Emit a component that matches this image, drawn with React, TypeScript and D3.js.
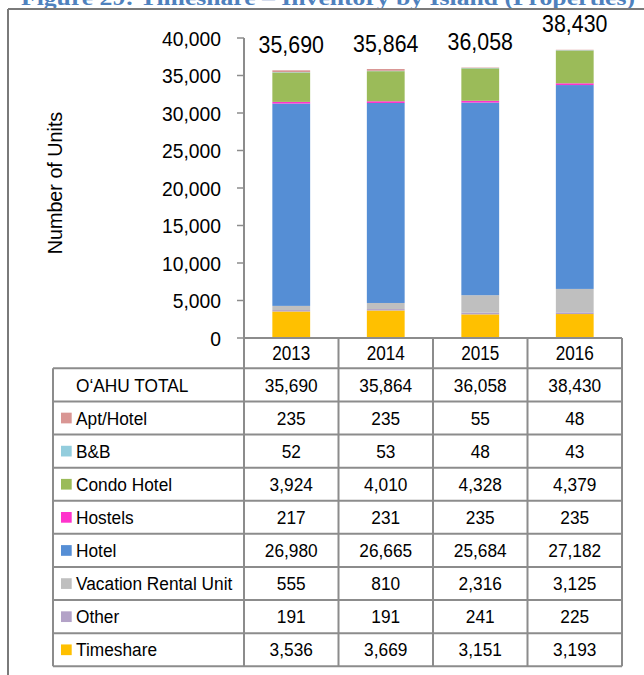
import React from 'react';
import * as d3 from 'd3';

const years = ['2013', '2014', '2015', '2016'];
const totals = [35690, 35864, 36058, 38430];
const seriesNames = ['Apt/Hotel', 'B&B', 'Condo Hotel', 'Hostels', 'Hotel', 'Vacation Rental Unit', 'Other', 'Timeshare'];
const aptHotel = [235, 235, 55, 48];
const bnb = [52, 53, 48, 43];
const condoHotel = [3924, 4010, 4328, 4379];
const hostels = [217, 231, 235, 235];
const hotel = [26980, 26665, 25684, 27182];
const vacationRental = [555, 810, 2316, 3125];
const other = [191, 191, 241, 225];
const timeshare = [3536, 3669, 3151, 3193];
const seriesColors = ['#D99694', '#93CDDD', '#9BBB59', '#FF33CC', '#558ED5', '#BFBFBF', '#B3A2C7', '#FFC000'];
const yTicks = [0, 5000, 10000, 15000, 20000, 25000, 30000, 35000, 40000];

const seriesValues = [aptHotel, bnb, condoHotel, hostels, hotel, vacationRental, other, timeshare];

const W = 644;
const H = 675;
const FONT = "'Liberation Sans', Arial, sans-serif";
const GRID = '#8c8c8c';
const SX = 0.91;

function T(props: { x: number; y: number; size: number; anchor?: string; rotate?: boolean; sx?: number; children: any }) {
  const { x, y, size, anchor = 'start', rotate = false, sx = SX, children } = props;
  const tr = `translate(${x},${y})${rotate ? ' rotate(-90)' : ''} scale(${sx},1)`;
  return (
    <text transform={tr} textAnchor={anchor} fontFamily={FONT} fontSize={size} fill="#000">
      {children}
    </text>
  );
}

export default function App() {
  const x = d3.scaleBand<string>().domain(years).range([244, 622]).paddingInner(0.6).paddingOuter(0.3);
  const y = d3.scaleLinear().domain([0, 40000]).range([338, 38]);
  const fmt = d3.format(',');

  const rows = years.map((yr, i) => {
    const o: any = { year: yr };
    seriesNames.forEach((s, k) => (o[s] = seriesValues[k][i]));
    return o;
  });
  const keysBottomUp = [...seriesNames].reverse();
  const stacked = d3.stack<any>().keys(keysBottomUp)(rows);
  const colorOf = (name: string) => seriesColors[seriesNames.indexOf(name)];

  const step = x.step();
  const colStart = 244;
  const colEdges = years.map((_, i) => colStart + i * step).concat([colStart + years.length * step]);
  const colCenter = (i: number) => colStart + (i + 0.5) * step;

  const headTop = 338;
  const headBottom = 368.3;
  const tableBottom = 666.3;
  const nRows = 1 + seriesNames.length;
  const rowH = (tableBottom - headBottom) / nRows;
  const labelLeft = 53;

  const tableRows = [
    { label: 'Oʻ' + 'AHU TOTAL', color: null as string | null, values: totals },
    ...seriesNames.map((s, k) => ({ label: s, color: seriesColors[k], values: seriesValues[k] })),
  ];

  return (
    <svg width={W} height={H} style={{ position: 'absolute', left: 0, top: 0, display: 'block', background: '#fff' }}>
      <rect x={0} y={0} width={W} height={H} fill="#fff" />
      {/* title (cut at top) */}
      <text x={21} y={5} fontFamily="'Liberation Serif', 'DejaVu Serif', serif" fontWeight="bold" fontSize={22}
        fill="#4F81BD" textLength={614} lengthAdjust="spacingAndGlyphs">
        Figure 29: Timeshare – Inventory by Island (Properties)
      </text>
      {/* frame */}
      <line x1={8} y1={9} x2={W} y2={9} stroke="#7a7a7a" strokeWidth={2} />
      <line x1={8} y1={9} x2={8} y2={H} stroke="#7a7a7a" strokeWidth={2} />

      {/* y axis title */}
      <T x={62} y={(38 + 338) / 2 - 5} size={21} anchor="middle" rotate sx={0.94}>Number of Units</T>

      {/* y axis */}
      <line x1={244} y1={y(40000)} x2={244} y2={headBottom} stroke={GRID} strokeWidth={1.5} />
      {yTicks.map((t) => (
        <g key={t}>
          <line x1={237} x2={244} y1={y(t)} y2={y(t)} stroke={GRID} strokeWidth={1.5} />
          <T x={221} y={y(t) + 7.5} size={21} anchor="end" sx={0.92}>{fmt(t)}</T>
        </g>
      ))}

      {/* bars */}
      {stacked.map((layer) => (
        <g key={layer.key} fill={colorOf(layer.key)}>
          {layer.map((d, i) => (
            <rect key={i} x={x(years[i])} width={x.bandwidth()} y={y(d[1])} height={Math.max(0, y(d[0]) - y(d[1]))} />
          ))}
        </g>
      ))}

      {/* total labels */}
      {totals.map((t, i) => (
        <T key={i} x={(x(years[i]) as number) + x.bandwidth() / 2} y={y(t) - 17.5} size={24} anchor="middle" sx={0.89}>
          {fmt(t)}
        </T>
      ))}

      {/* table header (years) */}
      {years.map((yr, i) => (
        <T key={yr} x={colCenter(i)} y={(headTop + headBottom) / 2 + 7} size={19.5} anchor="middle" sx={0.88}>{yr}</T>
      ))}

      {/* table body */}
      {tableRows.map((r, ri) => {
        const top = headBottom + ri * rowH;
        const cy = top + rowH / 2;
        return (
          <g key={ri}>
            {r.color && <rect x={61} y={cy - 5.3} width={10.7} height={10.7} fill={r.color} />}
            <T x={76} y={cy + 6.7} size={18.6} sx={0.93}>{r.label}</T>
            {r.values.map((v, i) => (
              <T key={i} x={colCenter(i)} y={cy + 6.7} size={18.6} anchor="middle" sx={0.93}>{fmt(v)}</T>
            ))}
          </g>
        );
      })}

      {/* table grid */}
      <g stroke={GRID} strokeWidth={2} fill="none">
        <line x1={colStart} x2={colEdges[colEdges.length - 1]} y1={headTop} y2={headTop} />
        {d3.range(nRows + 1).map((k) => (
          <line key={k} x1={labelLeft} x2={colEdges[colEdges.length - 1]} y1={headBottom + k * rowH} y2={headBottom + k * rowH} />
        ))}
        <line x1={labelLeft} x2={labelLeft} y1={headBottom} y2={tableBottom} />
        {colEdges.map((cx, k) => (
          <line key={k} x1={cx} x2={cx} y1={k === 0 ? y(40000) : headTop} y2={tableBottom} />
        ))}
      </g>
    </svg>
  );
}
